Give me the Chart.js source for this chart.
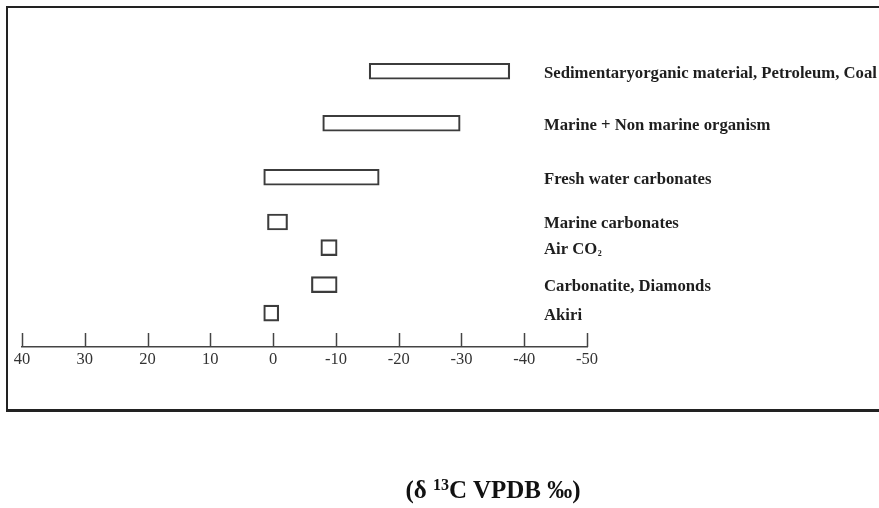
<!DOCTYPE html>
<html>
<head>
<meta charset="utf-8">
<script src="https://cdn.jsdelivr.net/npm/chart.js@4.4.0/dist/chart.umd.min.js"></script>
<style>
  body { margin: 0; background: #fff; }
  .wrap { position: relative; width: 879px; height: 508px; overflow: hidden; }
  .marco { position: absolute; left: 6px; top: 6px; width: 1000px; height: 406px; border: 2.5px solid #222; border-bottom-width: 3px; box-sizing: border-box; }
  canvas { position: absolute; left: 0; top: 0; }
  .titulo { position: absolute; left: 293px; width: 400px; top: 477px; text-align: center; font: bold 25px 'Liberation Serif', serif; line-height: 25px; color: #111; }
  .titulo sup { font-size: 16px; position: relative; top: -8px; vertical-align: baseline; }
</style>
</head>
<body>
<div class="wrap">
  <div class="marco"></div>
  <canvas id="isoChart" width="879" height="508"></canvas>
  <div class="titulo">(δ <sup>13</sup>C VPDB ‰)</div>
</div>
<script>
// carbon sources, top to bottom
const sources = [
  'Sedimentaryorganic material, Petroleum, Coal',
  'Marine + Non marine organism',
  'Fresh water carbonates',
  'Marine carbonates',
  'Air CO₂',
  'Carbonatite, Diamonds',
  'Akiri',
];
// delta 13C range of each source (per mil)
const rangeStart = [-15.3, -7.9, 1.5, 0.9, -7.6, -6.1, 1.5];
const rangeEnd = [-37.7, -29.8, -16.9, -2.3, -10.2, -10.2, -0.9];
// row position of each source on the vertical axis
const rowSlot = [0, 2.15, 4.38, 6.23, 7.29, 8.82, 10];
const xTicks = [40, 30, 20, 10, 0, -10, -20, -30, -40, -50];

// tick marks point up from the axis line
const ticksArriba = {
  id: 'ticksArriba',
  afterDraw(chart) {
    const { ctx, scales: { x } } = chart;
    ctx.save();
    ctx.strokeStyle = '#444';
    ctx.lineWidth = 1.5;
    x.ticks.forEach((t) => {
      const px = Math.round(x.getPixelForValue(t.value)) + 0.5;
      ctx.beginPath();
      ctx.moveTo(px, x.top);
      ctx.lineTo(px, x.top - 14);
      ctx.stroke();
    });
    ctx.restore();
  },
};

// source names next to the bars
const etiquetas = {
  id: 'etiquetas',
  afterDatasetsDraw(chart) {
    const { ctx, chartArea, scales: { y } } = chart;
    ctx.save();
    ctx.fillStyle = '#1e1e1e';
    ctx.textBaseline = 'alphabetic';
    ctx.textAlign = 'left';
    const px = chartArea.right - 43;
    sources.forEach((s, i) => {
      const py = y.getPixelForValue(rowSlot[i]) + 6.5;
      const partes = s.split('₂');
      ctx.font = "bold 16.7px 'Liberation Serif', serif";
      ctx.fillText(partes[0], px, py);
      if (partes.length > 1) {
        const w = ctx.measureText(partes[0]).width;
        ctx.font = "bold 8px 'Liberation Serif', serif";
        ctx.fillText('2', px + w + 0.5, py + 2);
      }
    });
    ctx.restore();
  },
};

const ctx = document.getElementById('isoChart').getContext('2d');

new Chart(ctx, {
  type: 'bar',
  data: {
    labels: sources,
    datasets: [
      {
        label: 'δ13C',
        data: sources.map((s, i) => ({ x: [rangeStart[i], rangeEnd[i]], y: rowSlot[i] })),
        backgroundColor: 'rgba(255,255,255,0)',
        borderColor: '#3c3c3c',
        borderWidth: 1.5,
        borderSkipped: false,
        barThickness: 16,
      },
    ],
  },
  options: {
    indexAxis: 'y',
    responsive: false,
    animation: false,
    layout: {
      padding: { left: 22, right: 292, top: 35, bottom: 131 },
    },
    plugins: {
      legend: { display: false },
      tooltip: { enabled: false },
    },
    scales: {
      x: {
        type: 'linear',
        reverse: true,
        min: -50,
        max: 40,
        afterBuildTicks: (scale) => {
          scale.ticks = xTicks.map((v) => ({ value: v }));
        },
        afterFit: (scale) => {
          scale.height = 30;
        },
        grid: { display: false },
        border: { display: true, color: '#444', width: 1.5 },
        ticks: {
          autoSkip: false,
          maxRotation: 0,
          padding: -5,
          color: '#333',
          font: { family: 'Liberation Serif', size: 16.5 },
          callback: (v) => String(v),
        },
      },
      y: {
        type: 'linear',
        display: false,
        reverse: true,
        offset: false,
        min: -1.5,
        max: 11.4,
      },
    },
  },
  plugins: [ticksArriba, etiquetas],
});
</script>
</body>
</html>
